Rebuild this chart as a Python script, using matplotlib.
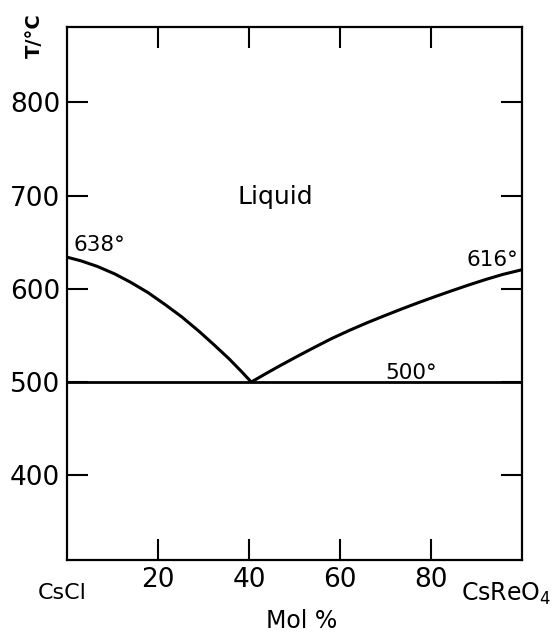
import matplotlib
matplotlib.use('Agg')
import matplotlib.pyplot as plt

# Diagrama de fases CsCl - CsReO4
x_left = [0, 3.1, 6.7, 10.5, 14.0, 17.8, 21.6, 25.2, 29.0, 32.3, 35.6, 38.3, 40.5]
t_left = [634, 630, 624, 616, 607, 596, 583, 570, 554.5, 540, 525, 511.5, 500]

x_right = [40.5, 43.7, 46.8, 50.6, 54.1, 58.1, 62.1, 65.9, 69.7, 73.5, 77.3,
           80.8, 84.6, 88.2, 92.0, 95.8, 100]
t_right = [500, 509, 517.5, 527.5, 536.5, 546.5, 555.5, 563.5, 571, 578.3, 585.3,
           591.5, 598, 604, 610, 615.5, 620.5]

eutetico = 500
x_ticks = [20, 40, 60, 80]
y_ticks = [400, 500, 600, 700, 800]

plt.rcParams['font.family'] = 'DejaVu Sans'

fig = plt.figure(figsize=(5.55, 6.33), dpi=100)
ax = fig.add_axes([67 / 555, 1 - 560 / 633, (522 - 67) / 555, (560 - 27) / 633])

ax.plot(x_left, t_left, color='black', lw=2.2, solid_capstyle='butt')
ax.plot(x_right, t_right, color='black', lw=2.2, solid_capstyle='butt')
ax.axhline(eutetico, color='black', lw=2.0)

ax.set_xlim(0, 100)
ax.set_ylim(309, 881)
ax.set_xticks(x_ticks)
ax.set_yticks(y_ticks)
ax.tick_params(direction='in', length=15, width=1.5, labelsize=19,
               top=True, right=True, pad=5)
for s in ax.spines.values():
    s.set_linewidth(1.6)

ax.text(1.5, 647, '638°', fontsize=15.5, ha='left', va='center')
ax.text(99.1, 631, '616°', fontsize=15.5, ha='right', va='center')
ax.text(75.7, 510, '500°', fontsize=15.5, ha='center', va='center')
ax.text(45.7, 699, 'Liquid', fontsize=18, ha='center', va='center')

fig.text(34 / 555, 1 - 36 / 633, 'T/°C', rotation=90, fontsize=14,
         fontweight='bold', ha='center', va='center')
fig.text(62 / 555, 1 - 593 / 633, 'CsCl', fontsize=16, ha='center', va='center')
fig.text(506 / 555, 1 - 594 / 633, 'CsReO$_4$', fontsize=17, ha='center', va='center')
fig.text(302 / 555, 1 - 621 / 633, 'Mol %', fontsize=17, ha='center', va='center')

plt.savefig('out.png', dpi=100)
